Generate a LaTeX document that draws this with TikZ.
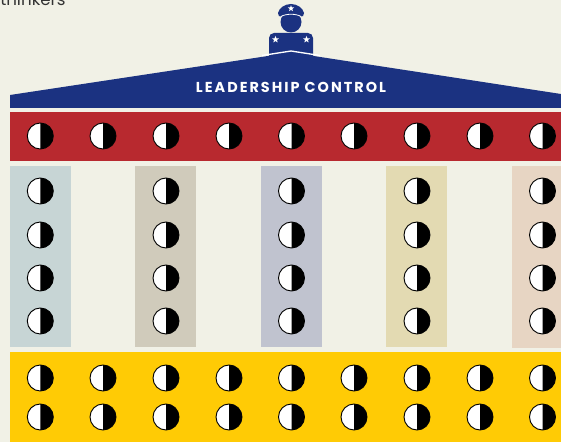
\documentclass[tikz,border=0pt]{standalone}
\usepackage{fontspec}
\setmainfont{Poppins}
\usepackage{tikz}
\usetikzlibrary{shapes.geometric}
\definecolor{paper}{HTML}{F1F1E6}
\definecolor{navy}{HTML}{1B3281}
\definecolor{brick}{HTML}{B8292F}
\definecolor{gold}{HTML}{FFCB05}
\definecolor{pillarA}{HTML}{C7D5D5}
\definecolor{pillarB}{HTML}{D0CBBB}
\definecolor{pillarC}{HTML}{C0C3CF}
\definecolor{pillarD}{HTML}{E3DAB2}
\definecolor{pillarE}{HTML}{E7D5C3}
\def\halfdisc(#1,#2){\fill[white] (#1,#2) circle (13);
	\fill[black] (#1,#2-13) arc (-90:90:13) -- cycle;
	\draw[black,line width=0.7pt] (#1,#2) circle (13);}
\tikzset{capstar/.style={star,star points=5,star point ratio=2.4,fill=white,inner sep=0pt,minimum size=5.5pt}}

\begin{document}
\begin{tikzpicture}[x=0.75pt,y=-0.75pt]
			\useasboundingbox (0,0) rectangle (561,442);
			\fill[paper] (0,0) rectangle (561,442);
			\node[anchor=base west,inner sep=0pt,font=\fontsize{12.5}{12.5}\selectfont,text=black!80] (caption) at (0,6) {thinkers};
			
			%%%%% officer %%%%%
			\fill[navy] (269,56) -- (269,38) arc (180:270:5) -- (308,33) arc (270:360:5) -- (313,56) -- cycle;
			\fill[navy] (291,22) circle (10.5);
			\fill[navy] (278,13) .. controls (279,8) and (285,4) .. (291,4) .. controls (297,4) and (303,8) .. (304,13) .. controls (304,16) and (302.5,17) .. (301,16.5) .. controls (296,13.5) and (286,13.5) .. (281,16.5) .. controls (279.5,17) and (278,16) .. (278,13) -- cycle;
			\draw[white,line width=0.6pt] (281,16.5) .. controls (286,13.5) and (296,13.5) .. (301,16.5);
			\node[capstar,minimum size=5pt] (capbadge) at (291,8.5) {};
			\node[capstar] (leftbadge) at (275.5,39.5) {};
			\node[capstar] (rightbadge) at (306.5,39.5) {};
			
			%%%%% roof %%%%%
			\fill[navy] (10,95) -- (291,52.5) -- (561,94) -- (561,108) -- (10,108) -- cycle;
			\draw[white,line width=1pt] (262,55.5) -- (291,51) -- (320,55.5);
			\node[font=\fontsize{10.8}{11}\selectfont\bfseries\addfontfeature{LetterSpace=14},text=white] (roofname) at (291,87) {LEADERSHIP CONTROL};
			
			%%%%% bands %%%%%
			\fill[brick] (10,112) rectangle (561,161);
			\fill[gold] (10,352) rectangle (561,442);
			\fill[pillarA] (10,166) rectangle (71,347);
			\fill[pillarB] (135,166) rectangle (196,347);
			\fill[pillarC] (261,166) rectangle (322,347);
			\fill[pillarD] (386,166) rectangle (447,347);
			\fill[pillarE] (512,166) rectangle (561,348);
			
			\foreach \xx in {40.3,103,166,229,291.5,354,417,480,542.5}{
				\halfdisc(\xx,136)
				\halfdisc(\xx,378)
				\halfdisc(\xx,417)
			}
			\foreach \xx in {40.3,166,291.5,417,542.5}
				\foreach \yy in {191,235,278,321}{
					\halfdisc(\xx,\yy)
				}
		\end{tikzpicture}
\end{document}
